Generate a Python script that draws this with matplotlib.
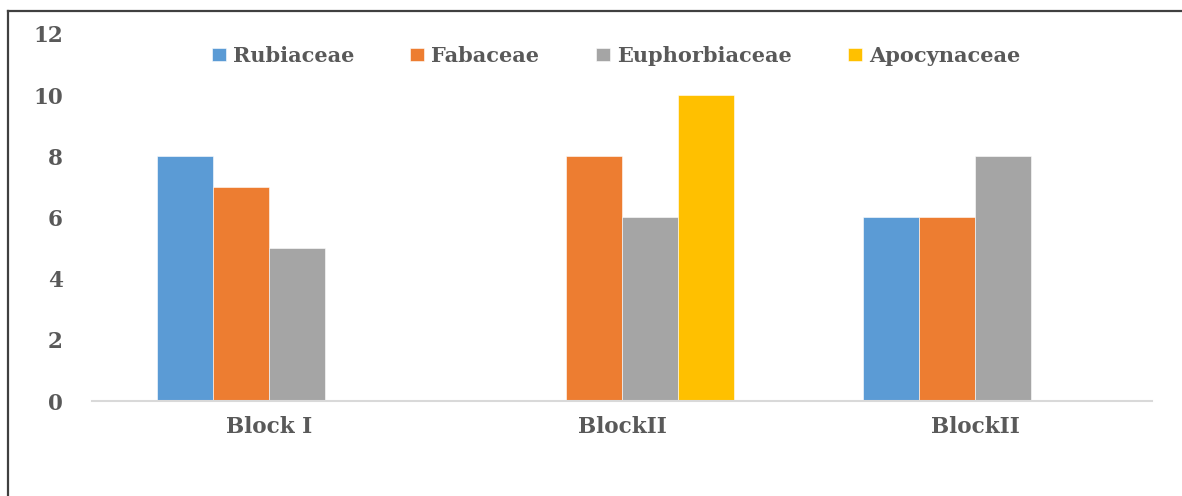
import numpy as np
import matplotlib.pyplot as plt
from matplotlib.lines import Line2D

blocks = ['Block I', 'BlockII', 'BlockII']
families = ['Rubiaceae', 'Fabaceae', 'Euphorbiaceae', 'Apocynaceae']
rubiaceae = [8, 0, 6]
fabaceae = [7, 8, 6]
euphorbiaceae = [5, 6, 8]
apocynaceae = [0, 10, 0]
colors = ['#5b9bd5', '#ed7d31', '#a5a5a5', '#ffc000']

txt = '#595959'
plt.rcParams['font.family'] = 'DejaVu Serif'
plt.rcParams['font.weight'] = 'bold'

fig = plt.figure(figsize=(11.82, 4.96), dpi=100)
ax = fig.add_axes([0.0778, 0.1915, 0.8968, 0.74])

x = np.arange(len(blocks))
width = 0.1585
series = [rubiaceae, fabaceae, euphorbiaceae, apocynaceae]
for i, (vals, name, c) in enumerate(zip(series, families, colors)):
    ax.bar(x + (i - 1.5) * width, vals, width, color=c, label=name,
           edgecolor='white', linewidth=0.4)

ax.set_xlim(-0.5, 2.5)
ax.set_ylim(0, 12)
ax.set_yticks(np.arange(0, 13, 2))
ax.set_xticks(x)
ax.set_xticklabels(blocks)
for s in ['top', 'right', 'left']:
    ax.spines[s].set_visible(False)
ax.spines['bottom'].set_color('#d9d9d9')
ax.spines['bottom'].set_linewidth(1.5)
ax.tick_params(axis='y', length=0, pad=21, labelsize=15.5, labelcolor=txt)
ax.tick_params(axis='x', length=0, pad=11, labelsize=15.5, labelcolor=txt)

leg = fig.legend(loc='center', bbox_to_anchor=(0.521, 1 - 56 / 496), ncol=4,
                 frameon=False, fontsize=15, handlelength=0.67,
                 handleheight=0.53, handletextpad=0.34, columnspacing=2.7)
for t in leg.get_texts():
    t.set_color(txt)

# outer frame, only top and left edges
fig.add_artist(Line2D([8 / 1182, 1], [1 - 11 / 496, 1 - 11 / 496],
                      color='#404040', lw=1.6, transform=fig.transFigure))
fig.add_artist(Line2D([8 / 1182, 8 / 1182], [0, 1 - 11 / 496],
                      color='#404040', lw=1.6, transform=fig.transFigure))

fig.savefig('out.png', dpi=100)
